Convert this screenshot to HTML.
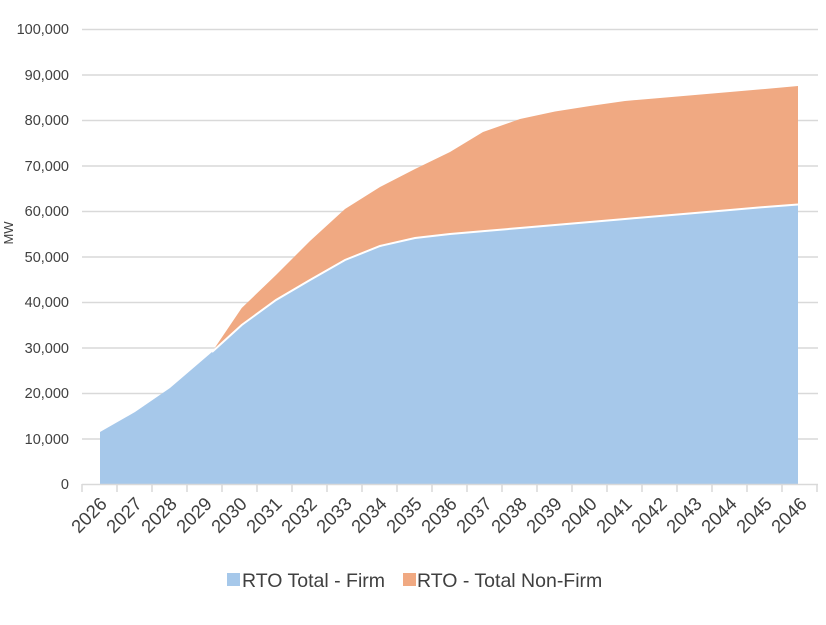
<!DOCTYPE html>
<html><head><meta charset="utf-8"><style>
body{margin:0;background:#fff}
svg text{font-family:"Liberation Sans",sans-serif;fill:#404040}
</style></head><body>
<svg width="826" height="620" xmlns="http://www.w3.org/2000/svg">
<g stroke="#d9d9d9" stroke-width="1.5">
<line x1="82" x2="818" y1="29.5" y2="29.5"/>
<line x1="82" x2="818" y1="75" y2="75"/>
<line x1="82" x2="818" y1="120.5" y2="120.5"/>
<line x1="82" x2="818" y1="166" y2="166"/>
<line x1="82" x2="818" y1="211.5" y2="211.5"/>
<line x1="82" x2="818" y1="257" y2="257"/>
<line x1="82" x2="818" y1="302.5" y2="302.5"/>
<line x1="82" x2="818" y1="348" y2="348"/>
<line x1="82" x2="818" y1="393.5" y2="393.5"/>
<line x1="82" x2="818" y1="439" y2="439"/>
</g>
<polygon fill="#f0a982" points="212,352 241.7,308 276,275 310,241 345,209 380,187 415,169 450,152 483,132 520,119 555,111.5 590,106 625,101 660,98 695,95 730,92 765,89 798,86 798,204.5 765,207 730,210 695,213 660,216 625,219 590,222 555,225 520,228 485,231 450,234 415,238 380,246 345,260 310,280 276,300 241.7,325"/>
<polygon fill="#a6c8ea" points="100,484 100,432 135,412 170,388 212,352 241.7,325 276,300 310,280 345,260 380,246 415,238 450,234 485,231 520,228 555,225 590,222 625,219 660,216 695,213 730,210 765,207 798,204.5 798,484"/>
<polyline fill="none" stroke="#fff" stroke-width="2" points="212,352 241.7,325 276,300 310,280 345,260 380,246 415,238 450,234 485,231 520,228 555,225 590,222 625,219 660,216 695,213 730,210 765,207 798,204.5"/>
<g stroke="#d9d9d9" stroke-width="1.5">
<line x1="82" x2="818" y1="484.5" y2="484.5"/>
<path d="M82,484v8M117,484v8M152,484v8M187,484v8M222,484v8M257,484v8M292,484v8M327,484v8M362,484v8M397,484v8M432,484v8M467,484v8M502,484v8M537,484v8M572,484v8M607,484v8M642,484v8M677,484v8M712,484v8M747,484v8M782,484v8M817,484v8"/>
</g>
<g font-size="14.5" text-anchor="end">
<text x="69" y="34">100,000</text><text x="69" y="80">90,000</text><text x="69" y="125">80,000</text>
<text x="69" y="171">70,000</text><text x="69" y="216">60,000</text><text x="69" y="262">50,000</text>
<text x="69" y="307">40,000</text><text x="69" y="353">30,000</text><text x="69" y="398">20,000</text>
<text x="69" y="444">10,000</text><text x="69" y="489">0</text>
</g>
<text font-size="13" transform="translate(13,233) rotate(-90)" text-anchor="middle">MW</text>
<g font-size="18.5" text-anchor="end">
<text transform="translate(108,505) rotate(-45)">2026</text>
<text transform="translate(143,505) rotate(-45)">2027</text>
<text transform="translate(178,505) rotate(-45)">2028</text>
<text transform="translate(213,505) rotate(-45)">2029</text>
<text transform="translate(248,505) rotate(-45)">2030</text>
<text transform="translate(283,505) rotate(-45)">2031</text>
<text transform="translate(318,505) rotate(-45)">2032</text>
<text transform="translate(353,505) rotate(-45)">2033</text>
<text transform="translate(388,505) rotate(-45)">2034</text>
<text transform="translate(423,505) rotate(-45)">2035</text>
<text transform="translate(458,505) rotate(-45)">2036</text>
<text transform="translate(493,505) rotate(-45)">2037</text>
<text transform="translate(528,505) rotate(-45)">2038</text>
<text transform="translate(563,505) rotate(-45)">2039</text>
<text transform="translate(598,505) rotate(-45)">2040</text>
<text transform="translate(633,505) rotate(-45)">2041</text>
<text transform="translate(668,505) rotate(-45)">2042</text>
<text transform="translate(703,505) rotate(-45)">2043</text>
<text transform="translate(738,505) rotate(-45)">2044</text>
<text transform="translate(773,505) rotate(-45)">2045</text>
<text transform="translate(808,505) rotate(-45)">2046</text>
</g>
<rect x="227" y="573" width="13" height="13" fill="#a6c8ea"/>
<text x="242" y="587" font-size="19.5">RTO Total - Firm</text>
<rect x="403" y="573" width="13" height="13" fill="#f0a982"/>
<text x="417" y="587" font-size="19.5">RTO - Total Non-Firm</text>
</svg>
</body></html>
